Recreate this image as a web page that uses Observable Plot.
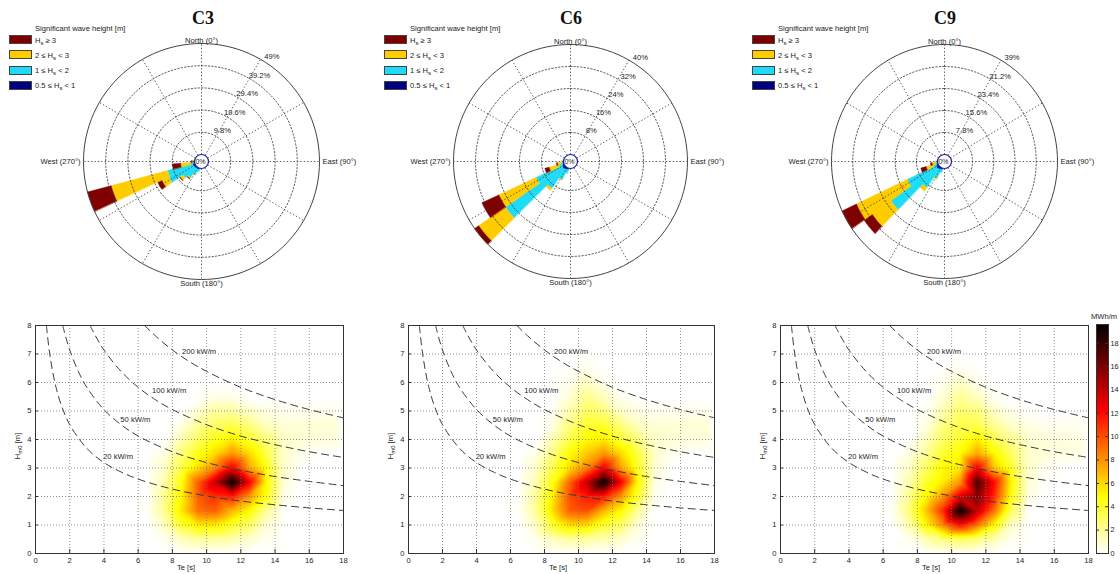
<!DOCTYPE html>
<html><head><meta charset="utf-8">
<script src="https://cdn.jsdelivr.net/npm/d3@7"></script>
<script src="https://cdn.jsdelivr.net/npm/@observablehq/plot@0.6"></script>
<style>
body{margin:0;background:#fff;}
#wrap{position:relative;width:1120px;height:574px;overflow:hidden;font-family:"Liberation Sans",Arial,sans-serif;color:#222;}
#wrap > *{position:absolute;}
.title{font-family:"Liberation Serif","Times New Roman",serif;font-weight:bold;font-size:18px;transform:translate(-50%,-50%);color:#111;}
.legHead{font-size:7.6px;white-space:nowrap;}
.box{width:23px;height:9px;box-sizing:border-box;border:0.5px solid #444;}
.legTxt{font-size:7.6px;white-space:nowrap;transform:translateY(-50%);}
.legTxt sub, .ylab sub{font-size:6px;vertical-align:-2px;line-height:0;}
.xlab{font-size:7.6px;transform:translate(-50%,-50%);white-space:nowrap;}
.ylab{font-size:7.6px;white-space:nowrap;transform:translate(-50%,-50%) rotate(-90deg);}
</style></head>
<body><div id="wrap"></div>
<script>
// ---------------- DATA ----------------
const stations = ["C3", "C6", "C9"];
const classLabels = ["H<sub>s</sub> \u2265 3", "2 \u2264 H<sub>s</sub> < 3", "1 \u2264 H<sub>s</sub> < 2", "0.5 \u2264 H<sub>s</sub> < 1"];
const legendColors = ["#800000", "#FFCC00", "#1EDCF8", "#000080"];
const classColors = ["#000080", "#1EDCF8", "#FFCC00", "#800000"]; // inner -> outer

const roseDirections = [200, 210, 220, 230, 240, 250, 260, 270];
// percentage of occurrence per direction, per Hs class
const c3Hs05to1 = [0.3, 0.5, 0.5, 0.6, 0.8, 1.0, 0.4, 0.3];
const c3Hs1to2  = [1.2, 2.7, 5.0, 6.5, 12.0, 11.4, 1.4, 0.3];
const c3Hs2to3  = [0, 0.3, 0.5, 1.5, 3.5, 25.8, 4.4, 0.4];
const c3HsGe3   = [0, 0, 0.2, 0.2, 2.0, 10.8, 3.6, 0.4];

const c6Hs05to1 = [0.4, 0.6, 0.8, 1.0, 0.8, 0.5, 0.3, 0.2];
const c6Hs1to2  = [1.5, 4.0, 8.5, 25.4, 10.5, 1.5, 0.7, 0.3];
const c6Hs2to3  = [0, 0.3, 0.9, 11.8, 14.9, 3.5, 1.2, 0.3];
const c6HsGe3   = [0, 0, 0, 1.8, 6.8, 1.6, 0.4, 0];

const c9Hs05to1 = [0.4, 0.5, 0.8, 1.0, 1.0, 0.5, 0.3, 0.2];
const c9Hs1to2  = [1.2, 3.5, 8.0, 20.6, 11.6, 1.5, 0.6, 0.3];
const c9Hs2to3  = [0, 0.5, 1.5, 8.4, 20.6, 2.5, 1.2, 0.3];
const c9HsGe3   = [0, 0, 0, 3.6, 5.8, 2.0, 0.6, 0];

const c3Rings = [9.8, 19.6, 29.4, 39.2, 49];
const c3RingText = ["9.8%", "19.6%", "29.4%", "39.2%", "49%"];
const c6Rings = [8, 16, 24, 32, 40];
const c6RingText = ["8%", "16%", "24%", "32%", "40%"];
const c9Rings = [7.8, 15.6, 23.4, 31.2, 39];
const c9RingText = ["7.8%", "15.6%", "23.4%", "31.2%", "39%"];
const spokeAngles = [0, 30, 60, 90, 120, 150, 180, 210, 240, 270, 300, 330];

// Energy scatter (MWh/m) on Te x Hs nodes
const teNodes = [6.5, 7.5, 8.5, 9.5, 10.5, 11.5, 12.5, 13.5, 14.5, 15.5, 16.5, 17.5];
const hsNodes = [6.5, 6.0, 5.5, 5.0, 4.5, 4.0, 3.5, 3.0, 2.5, 2.0, 1.5, 1.0, 0.5];
const c3Energy = [
  [0,0,0,0,0,0,0,0,0,0,0,0],
  [0,0,0,0,0,0,0,0,0,0,0,0],
  [0,0,0,0,0.4,0.4,0,0,0,0,0,0],
  [0,0,0,0.8,1.8,1.8,1,0.5,0.3,0.3,0.3,0.3],
  [0,0,0.5,2,3,3.5,2.5,1.2,0.8,0.8,0.8,0.8],
  [0,0,1.5,3,4.5,5.5,4,2.5,1,0.8,0.7,0.6],
  [0,0.5,2.5,4.5,6,8,6,3.5,1,0.3,0,0],
  [0,1,3.5,6,8.5,12.5,7.5,4.5,1,0,0,0],
  [0,1.5,4.5,9.5,14,19.6,12.5,5,0.8,0,0,0],
  [0,2,5,9.5,11,11.5,8,4.5,0.5,0,0,0],
  [0.2,2,5.5,9,9.5,7,5,2,0,0,0,0],
  [0,1.2,4,5.5,5.5,4,3,0.8,0,0,0,0],
  [0,0.3,1.2,1.8,1.8,1.5,1,0.3,0,0,0,0]
];
const c6Energy = [
  [0,0,0,0,0.3,0,0,0,0,0,0,0],
  [0,0,0,0.3,1.2,0.3,0,0,0,0,0,0],
  [0,0,0,0.8,2.2,1.2,0.3,0,0,0,0,0],
  [0,0,0.2,1.5,3,2.5,1,0.5,0.3,0.3,0.3,0.3],
  [0,0,0.5,2.5,4,4,2.5,1.2,0.8,0.8,0.8,0.8],
  [0,0,1.5,3.5,5,5.5,4,2.5,1,0.8,0.7,0.6],
  [0,0.5,2.5,5,6.5,8,6,3.5,1,0.3,0,0],
  [0,1,3.5,6,8.5,12.5,7.5,4,0.8,0,0,0],
  [0,1.5,4.5,9.5,14,19.6,12.5,5,0.5,0,0,0],
  [0,2,5.5,10,11.5,11.5,8,4,0.3,0,0,0],
  [0.2,2,6,9.5,10,7,5,2,0,0,0,0],
  [0,1.2,4,6,6,4,3,0.8,0,0,0,0],
  [0,0.3,1.2,1.8,1.8,1.5,1,0.3,0,0,0,0]
];
const c9Energy = [
  [0,0,0,0,0.2,0,0,0,0,0,0,0],
  [0,0,0,0.3,1,0.3,0,0,0,0,0,0],
  [0,0,0,0.8,2,1.2,0.3,0,0,0,0,0],
  [0,0,0.2,1.5,2.8,2.5,1,0.3,0,0,0,0],
  [0,0,0.5,2.5,3.5,3.5,2,1,0.5,0.3,0.3,0.3],
  [0,0,1.2,3,4,5.5,3.5,2,0.8,0.7,0.6,0.5],
  [0,0.5,2,4,5,7.5,5,3,1,0.7,0.6,0.5],
  [0,1,3,5,5.5,12.5,6.5,4,1,0.3,0,0],
  [0,1.5,4,5.5,8,17.5,12,5,0.8,0,0,0],
  [0,2,5,8,13,16,11,4.5,0.5,0,0,0],
  [0.2,2.5,6.5,11,19.6,14,9,3,0,0,0,0],
  [0,1.5,5,8.5,12,9,5,1,0,0,0,0],
  [0,0.3,1.5,2.5,3,2.5,1.5,0.3,0,0,0,0]
];
const energyMax = 19.6;

// Iso-power curves
const powerLabels = ["20 kW/m", "50 kW/m", "100 kW/m", "200 kW/m"];
const curveTe20 = [0.64, 0.8, 1, 1.2, 1.5, 2, 3, 4, 5, 6, 8, 10, 12, 14, 16, 18];
const curveHs20 = [7.99, 7.14, 6.39, 5.83, 5.22, 4.52, 3.69, 3.19, 2.86, 2.61, 2.26, 2.02, 1.84, 1.71, 1.60, 1.51];
const curveTe50 = [1.59, 1.8, 2, 2.5, 3, 4, 5, 6, 8, 10, 12, 14, 16, 18];
const curveHs50 = [8, 7.53, 7.14, 6.39, 5.83, 5.05, 4.52, 4.12, 3.57, 3.19, 2.92, 2.70, 2.53, 2.38];
const curveTe100 = [3.19, 3.5, 4, 5, 6, 7, 8, 10, 12, 14, 16, 18];
const curveHs100 = [8, 7.64, 7.14, 6.39, 5.83, 5.40, 5.05, 4.52, 4.12, 3.82, 3.57, 3.37];
const curveTe200 = [6.38, 7, 8, 9, 10, 12, 14, 16, 18];
const curveHs200 = [8, 7.64, 7.14, 6.73, 6.39, 5.83, 5.40, 5.05, 4.76];
const powerLabelTe = [3.95, 4.96, 6.81, 8.56];
const powerLabelHs = [3.41, 4.70, 5.72, 7.09];

const teTicks = [0, 2, 4, 6, 8, 10, 12, 14, 16, 18];
const hsTicks = [0, 1, 2, 3, 4, 5, 6, 7, 8];
const colorbarTicks = [0, 2, 4, 6, 8, 10, 12, 14, 16, 18];

// ---------------- HELPERS ----------------
const wrap = document.getElementById("wrap");
const FONT = "'Liberation Sans', Arial, sans-serif";
function place(el, left, top) { el.style.left = left + "px"; el.style.top = top + "px"; wrap.appendChild(el); return el; }
function html(cls, inner, left, top) { const d = document.createElement("div"); d.className = cls; d.innerHTML = inner; return place(d, left, top); }
const rad = a => a * Math.PI / 180;

function hotInv(t) {
  const x = 1 - Math.max(0, Math.min(1, t));
  const r = Math.min(1, x / 0.375);
  const g = Math.max(0, Math.min(1, (x - 0.375) / 0.375));
  const b = Math.max(0, Math.min(1, (x - 0.75) / 0.25));
  return `rgb(${Math.round(r * 255)},${Math.round(g * 255)},${Math.round(b * 255)})`;
}

function drawRose(o) {
  const { left, width, cx, cy, Rx, Ry, maxPct, rings, ringText, classes } = o;
  const hole = 7 / Ry;
  const u = p => hole + (1 - hole) * p / maxPct;
  const wedges = [];
  roseDirections.forEach((dir, i) => {
    let cum = 0;
    classes.forEach((arr, k) => {
      const v = arr[i];
      if (!(v > 0)) return;
      const a = cum, b = cum + v; cum = b;
      const id = dir + "-" + k, n = 8;
      for (let j = 0; j <= n; j++) { const t = rad(dir - 5 + 10 * j / n); wedges.push({ id, color: classColors[k], x: u(b) * Math.sin(t), y: u(b) * Math.cos(t) }); }
      for (let j = n; j >= 0; j--) { const t = rad(dir - 5 + 10 * j / n); wedges.push({ id, color: classColors[k], x: u(a) * Math.sin(t), y: u(a) * Math.cos(t) }); }
    });
  });
  const ringPts = [];
  rings.forEach((p, i) => {
    for (let a = 0; a <= 360; a += 3) ringPts.push({ id: i, outer: i === rings.length - 1, x: u(p) * Math.sin(rad(a)), y: u(p) * Math.cos(rad(a)) });
  });
  const lab = rings.map((p, i) => {
    const rr = u(p) + 8 / Ry;
    return { x: rr * Math.sin(rad(34)), y: rr * Math.cos(rad(34)), t: ringText[i] };
  });
  const dotted = { stroke: "#333", strokeWidth: 0.8, strokeDasharray: "1.4,2" };
  const plot = Plot.plot({
    width, height: 295, margin: 0,
    style: { fontFamily: FONT, fontSize: "7.6px", color: "#222", background: "transparent", overflow: "visible" },
    x: { domain: [-1, 1], range: [cx - Rx, cx + Rx], axis: null },
    y: { domain: [-1, 1], range: [cy + Ry, cy - Ry], axis: null },
    color: { type: "identity" },
    marks: [
      Plot.line(wedges, { x: "x", y: "y", z: "id", fill: "color", stroke: "color", strokeWidth: 0.5, curve: "linear-closed" }),
      Plot.line(ringPts.filter(d => !d.outer), { x: "x", y: "y", z: "id", ...dotted }),
      Plot.link(spokeAngles, { x1: a => hole * Math.sin(rad(a)), y1: a => hole * Math.cos(rad(a)), x2: a => Math.sin(rad(a)), y2: a => Math.cos(rad(a)), ...dotted }),
      Plot.line(ringPts.filter(d => d.outer), { x: "x", y: "y", z: "id", stroke: "#444", strokeWidth: 1 }),
      Plot.dot([{ x: 0, y: 0 }], { x: "x", y: "y", r: 7, stroke: "#1c1ca0", strokeWidth: 1.2, fill: "white" }),
      Plot.text([{ x: 0, y: 0, t: "0%" }], { x: "x", y: "y", text: "t", fontSize: 7, dx: -1, fill: "#222" }),
      Plot.text(lab, { x: "x", y: "y", text: "t", fill: "#222" }),
      Plot.text([{ x: 0, y: 1, t: "North (0\u00b0)" }], { x: "x", y: "y", text: "t", lineAnchor: "bottom", dy: -1 }),
      Plot.text([{ x: 0, y: -1, t: "South (180\u00b0)" }], { x: "x", y: "y", text: "t", lineAnchor: "top", dy: 1 }),
      Plot.text([{ x: -1, y: 0, t: "West (270\u00b0)" }], { x: "x", y: "y", text: "t", textAnchor: "end", dx: -3 }),
      Plot.text([{ x: 1, y: 0, t: "East (90\u00b0)" }], { x: "x", y: "y", text: "t", textAnchor: "start", dx: 3 })
    ]
  });
  place(plot, left, 0);
}

function fieldPoints(matrix) {
  const tes = [0, 2, 4, 5.5, ...teNodes, 18];
  const hss = [0, ...hsNodes.slice().reverse(), 7.25, 8];
  const pts = [];
  for (const te of tes) for (const hs of hss) {
    const i = hsNodes.indexOf(hs), j = teNodes.indexOf(te);
    pts.push({ te, hs, v: (i >= 0 && j >= 0) ? matrix[i][j] : 0 });
  }
  return pts;
}

const curveSets = [[curveTe20, curveHs20], [curveTe50, curveHs50], [curveTe100, curveHs100], [curveTe200, curveHs200]];
const curvePts = curveSets.flatMap(([T, H], k) => T.map((t, i) => ({ level: powerLabels[k], te: t, hs: H[i] })));
const curveLabels = powerLabels.map((l, k) => ({ label: l, te: powerLabelTe[k], hs: powerLabelHs[k] }));

function drawHeat(o) {
  const { left, width, mL, mR, matrix } = o;
  const grid = { stroke: "#777", strokeOpacity: 1, strokeWidth: 0.8, strokeDasharray: "1,2" };
  const plot = Plot.plot({
    width, height: 269, marginLeft: mL, marginRight: mR, marginTop: 20, marginBottom: 21,
    style: { fontFamily: FONT, fontSize: "7.6px", color: "#222", background: "transparent", overflow: "visible" },
    x: { domain: [0, 18], axis: null },
    y: { domain: [0, 8], axis: null },
    color: { type: "linear", domain: [0, energyMax], interpolate: hotInv, clamp: true },
    marks: [
      Plot.raster(fieldPoints(matrix), { x: "te", y: "hs", fill: "v", interpolate: "barycentric", x1: 0, x2: 18, y1: 0, y2: 8 }),
      Plot.gridX(teTicks, grid),
      Plot.gridY(hsTicks, grid),
      Plot.line(curvePts, { x: "te", y: "hs", z: "level", stroke: "#3a3a3a", strokeWidth: 1, strokeDasharray: "7,5", curve: "catmull-rom" }),
      Plot.text(curveLabels, { x: "te", y: "hs", text: "label", textAnchor: "start", fill: "#222", stroke: "white", strokeWidth: 2.5 }),
      Plot.tickX(teTicks, { x: d => d, insetTop: 224, stroke: "#333" }),
      Plot.tickY(hsTicks, { y: d => d, insetRight: width - mL - mR - 3, stroke: "#333" }),
      Plot.frame({ stroke: "#333" }),
      Plot.axisX(teTicks, { tickSize: 0, tickPadding: 4, label: null }),
      Plot.axisY(hsTicks, { tickSize: 0, tickPadding: 4, label: null })
    ]
  });
  place(plot, left, 305);
}

function drawColorbar() {
  const plot = Plot.plot({
    width: 38, height: 269, marginLeft: 15, marginRight: 11, marginTop: 19, marginBottom: 21,
    style: { fontFamily: FONT, fontSize: "7.2px", color: "#222", background: "transparent", overflow: "visible" },
    x: { domain: [0, 1], axis: null },
    y: { domain: [0, energyMax], axis: null },
    color: { type: "linear", domain: [0, energyMax], interpolate: hotInv },
    marks: [
      Plot.raster({ width: 1, height: 200, fill: (x, y) => y, x1: 0, x2: 1, y1: 0, y2: energyMax, imageRendering: "auto" }),
      Plot.tickY(colorbarTicks, { y: d => d, insetLeft: 9, stroke: "#333" }),
      Plot.tickY(colorbarTicks, { y: d => d, insetRight: 9, stroke: "#333" }),
      Plot.frame({ stroke: "#333" }),
      Plot.axisY(colorbarTicks, { anchor: "right", tickSize: 0, tickPadding: 2, label: null })
    ]
  });
  place(plot, 1081, 305);
  html("legHead", "MWh/m", 1091, 312);
}

// ---------------- LAYOUT ----------------
const roseCfg = [
  { left: 0, width: 370, cx: 201, cy: 161, Rx: 118, Ry: 118, maxPct: 49, rings: c3Rings, ringText: c3RingText, classes: [c3Hs05to1, c3Hs1to2, c3Hs2to3, c3HsGe3], titleX: 203, legX: 9 },
  { left: 375, width: 370, cx: 195, cy: 161, Rx: 117, Ry: 117, maxPct: 40, rings: c6Rings, ringText: c6RingText, classes: [c6Hs05to1, c6Hs1to2, c6Hs2to3, c6HsGe3], titleX: 571, legX: 384 },
  { left: 745, width: 375, cx: 199, cy: 161, Rx: 113, Ry: 117, maxPct: 39, rings: c9Rings, ringText: c9RingText, classes: [c9Hs05to1, c9Hs1to2, c9Hs2to3, c9HsGe3], titleX: 945, legX: 752 }
];
roseCfg.forEach((c, s) => {
  drawRose(c);
  html("title", stations[s], c.titleX, 18);
  html("legHead", "Significant wave height [m]", c.legX + 26, 24);
  const rowY = [39.5, 54.5, 70, 85];
  classLabels.forEach((l, k) => {
    const b = document.createElement("div");
    b.className = "box"; b.style.background = legendColors[k];
    place(b, c.legX, rowY[k] - 4.5);
    html("legTxt", l, c.legX + 26, rowY[k]);
  });
});

const heatCfg = [
  { left: 0, width: 370, mL: 35, mR: 27, matrix: c3Energy, fx0: 35, fx1: 343 },
  { left: 375, width: 370, mL: 33, mR: 31, matrix: c6Energy, fx0: 408, fx1: 714 },
  { left: 745, width: 375, mL: 35, mR: 32, matrix: c9Energy, fx0: 780, fx1: 1088 }
];
heatCfg.forEach(c => {
  drawHeat(c);
  html("xlab", "Te [s]", (c.fx0 + c.fx1) / 2 - 3, 567);
  html("ylab", "H<sub>m0</sub> [m]", c.fx0 - 18, 446);
});
drawColorbar();
</script>
</body></html>
